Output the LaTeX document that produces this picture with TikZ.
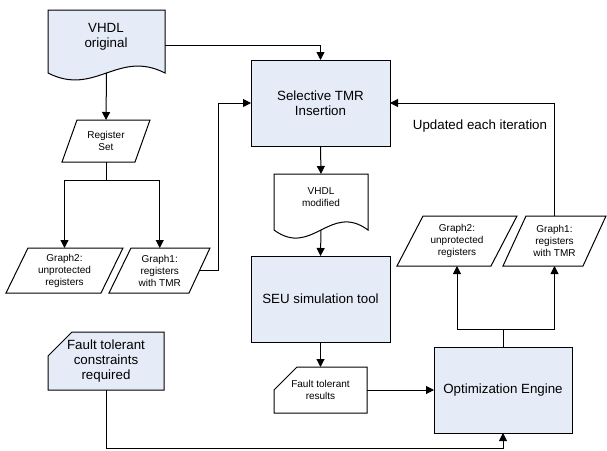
\documentclass[tikz,border=0pt]{standalone}
\usepackage{fontspec}
\setmainfont{Liberation Sans}
\usetikzlibrary{arrows.meta}
\definecolor{boxfill}{RGB}{230,236,247}
\begin{document}
\begin{tikzpicture}[x=0.75pt,y=-0.75pt,
  shapeline/.style={draw=black,line width=0.75pt},
  big/.style={font=\fontsize{10}{11.5}\selectfont,align=center},
  small/.style={font=\fontsize{7.5}{9}\selectfont,align=center},
  box/.style 2 args={minimum width=#1*0.75pt,minimum height=#2*0.75pt,inner sep=0pt,outer sep=0pt},
  procbox/.style={shapeline,fill=boxfill,big},
  txt/.style={inner sep=0pt},
  arr/.style={-{Triangle[length=6pt,width=6pt]},line width=0.75pt},
  con/.style={line width=0.75pt}]
\useasboundingbox (0,0) rectangle (607,450);

% ---- shapes drawn directly ----
\filldraw[shapeline,fill=boxfill] (48,10) -- (165,10) -- (165,73)
  .. controls (118,49) and (95,97) .. (48,73) -- cycle;
\filldraw[shapeline,fill=white] (274,174) -- (368,174) -- (368,230)
  .. controls (330,202) and (312,258) .. (274,230) -- cycle;
\draw[shapeline] (77,120) -- (150,120) -- (135,162) -- (62,162) -- cycle;
\draw[shapeline] (28,248) -- (123,248) -- (101,293) -- (6,293) -- cycle;
\draw[shapeline] (131,248) -- (210,248) -- (189,293) -- (109,293) -- cycle;
\draw[shapeline] (423,216) -- (517,216) -- (491,266) -- (397,266) -- cycle;
\draw[shapeline] (526,216) -- (606,216) -- (583,266) -- (503,266) -- cycle;
\filldraw[shapeline,fill=white] (297,367) -- (367,367) -- (367,413) -- (274,413) -- (274,390) -- cycle;
\filldraw[shapeline,fill=boxfill] (72,332) -- (164,332) -- (164,390) -- (48,390) -- (48,356) -- cycle;

% ---- nodes ----
\node[box={117}{63}] (vo) at (106.5,41.5) {};
\node[txt,big] (vo-t) at (106,37) {VHDL\\original};
\node[procbox,box={139}{86}] (sel) at (320.5,103) {Selective TMR\\Insertion};
\node[box={73}{42},small] (reg) at (106,141) {Register\\Set};
\node[box={95}{45},small] (g2l) at (64.5,270.5) {Graph2:\\unprotected\\registers};
\node[box={79.5}{45},small] (g1l) at (159.75,270.5) {Graph1:\\registers\\with TMR};
\node[box={94}{56}] (vm) at (321,202) {};
\node[txt,small] (vm-t) at (321,197.5) {VHDL\\modified};
\node[procbox,box={139}{86}] (seu) at (320.5,299) {SEU simulation tool};
\node[box={93}{46},small] (ftr) at (320.5,390) {Fault tolerant\\results};
\node[procbox,box={138}{86}] (opt) at (503,390) {Optimization Engine};
\node[box={116}{58},big] (ftc) at (106,361) {Fault tolerant\\constraints\\required};
\node[box={94}{50},small] (g2r) at (457,241) {Graph2:\\unprotected\\registers};
\node[box={80}{50},small] (g1r) at (554.5,241) {Graph1:\\registers\\with TMR};
\node[txt,big] (upd) at (480,126) {Updated each iteration};

\coordinate (j1) at (106,180);
\coordinate (j2) at (503,329);
\coordinate (bot) at (503,448);

% ---- connectors ----
\draw[arr] ([yshift=-3pt]vo.east) -| (sel.north);
\draw[arr] (vo.south) -- (reg.north);
\draw[con] (reg.south) -- (j1);
\draw[arr] (j1) -| (g2l.north);
\draw[arr] (j1) -| (g1l.north);
\draw[arr] (g1l.east) -- ++(18.5,0) |- (sel.west);
\draw[arr] (sel.south) -- (vm.north);
\draw[arr] (vm.south) -- (seu.north);
\draw[arr] (seu.south) -- (ftr.north);
\draw[arr] (ftr.east) -- (opt.west);
\draw[arr] (ftc.south) |- (bot) -- (opt.south);
\draw[con] (opt.north) -- (j2);
\draw[arr] (j2) -| (g2r.south);
\draw[arr] (j2) -| (g1r.south);
\draw[arr] (g1r.north) |- (sel.east);
\end{tikzpicture}
\end{document}
